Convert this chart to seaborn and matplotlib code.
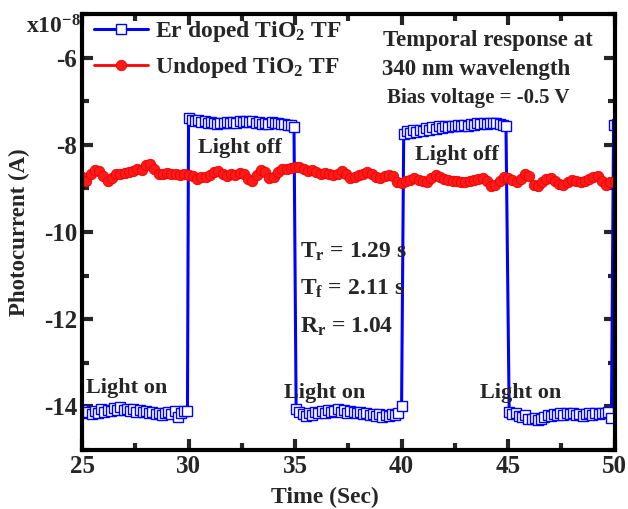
import numpy as np
import pandas as pd
import matplotlib
matplotlib.use("Agg")
import matplotlib.pyplot as plt
import seaborn as sns
from matplotlib.ticker import MultipleLocator

# photocurrent in units of 1e-8 A
# Er doped TiO2 TF: segments (start time, values), 0.15 s step
er_step = 0.15
er_starts = [25.0, 30.0, 35.05, 40.1, 45.05, 49.95]
er_seg_vals = [
    [-14.08, -14.15, -14.12, -14.18, -14.10, -14.14, -14.06, -14.12, -14.08, -14.10,
     -14.04, -14.09, -14.02, -14.08, -14.06, -14.10, -14.07, -14.12, -14.09, -14.13,
     -14.10, -14.15, -14.12, -14.18, -14.14, -14.20, -14.15, -14.12, -14.18, -14.10,
     -14.24, -14.15, -14.10, -14.10],
    [-7.38, -7.42, -7.45, -7.44, -7.47, -7.46, -7.50, -7.48, -7.50, -7.52,
     -7.49, -7.51, -7.48, -7.50, -7.47, -7.49, -7.46, -7.48, -7.45, -7.47,
     -7.46, -7.49, -7.47, -7.52, -7.50, -7.53, -7.48, -7.51, -7.50, -7.53,
     -7.52, -7.55, -7.54, -7.60],
    [-14.05, -14.12, -14.18, -14.22, -14.15, -14.20, -14.12, -14.16, -14.10, -14.14,
     -14.08, -14.12, -14.10, -14.06, -14.12, -14.09, -14.14, -14.10, -14.12, -14.15,
     -14.13, -14.18, -14.15, -14.20, -14.17, -14.22, -14.18, -14.24, -14.20, -14.22,
     -14.18, -14.20, -14.15, -13.98],
    [-7.75, -7.68, -7.72, -7.66, -7.70, -7.65, -7.68, -7.62, -7.66, -7.60,
     -7.64, -7.58, -7.62, -7.57, -7.60, -7.56, -7.58, -7.55, -7.57, -7.54,
     -7.56, -7.52, -7.55, -7.51, -7.53, -7.50, -7.52, -7.49, -7.50, -7.50,
     -7.52, -7.55, -7.56],
    [-14.12, -14.18, -14.15, -14.22, -14.25, -14.20, -14.28, -14.30, -14.26, -14.32,
     -14.28, -14.24, -14.20, -14.22, -14.17, -14.20, -14.16, -14.19, -14.15, -14.18,
     -14.16, -14.20, -14.17, -14.21, -14.18, -14.16, -14.19, -14.15, -14.17, -14.14,
     -14.16, -14.12, -14.27],
    [-7.55, -7.52],
]

# Undoped TiO2 TF, 0.2 s step from 25 s
un_start = 25.0
un_step = 0.2
un_vals = [
    -8.73, -8.82, -8.68, -8.57, -8.60, -8.72, -8.84, -8.76, -8.68, -8.66,
    -8.64, -8.63, -8.60, -8.56, -8.58, -8.47, -8.45, -8.55, -8.68, -8.67,
    -8.64, -8.68, -8.66, -8.70, -8.67, -8.69, -8.72, -8.78, -8.74, -8.73,
    -8.70, -8.62, -8.60, -8.68, -8.72, -8.66, -8.70, -8.64, -8.68, -8.78,
    -8.82, -8.70, -8.58, -8.62, -8.75, -8.74, -8.62, -8.56, -8.55, -8.53,
    -8.50, -8.52, -8.56, -8.60, -8.58, -8.62, -8.66, -8.64, -8.68, -8.70,
    -8.66, -8.60, -8.68, -8.76, -8.74, -8.70, -8.66, -8.62, -8.68, -8.74,
    -8.77, -8.72, -8.69, -8.72, -8.86, -8.88, -8.84, -8.80, -8.77, -8.80,
    -8.82, -8.85, -8.76, -8.70, -8.74, -8.78, -8.80, -8.82, -8.84, -8.86,
    -8.85, -8.82, -8.80, -8.78, -8.76, -8.84, -8.94, -8.92, -8.82, -8.74,
    -8.75, -8.80, -8.86, -8.78, -8.68, -8.72, -8.92, -8.95, -8.86, -8.78,
    -8.77, -8.82, -8.90, -8.92, -8.86, -8.80, -8.82, -8.86, -8.84, -8.78,
    -8.74, -8.72, -8.84, -8.92, -8.85, -8.82,
]

er_t, er_v = [], []
for t0, vals in zip(er_starts, er_seg_vals):
    er_t += list(t0 + er_step * np.arange(len(vals)))
    er_v += vals
er_df = pd.DataFrame({"t": er_t, "i": er_v})
un_df = pd.DataFrame({"t": un_start + un_step * np.arange(len(un_vals)), "i": un_vals})

sns.set_style("ticks")
plt.rcParams["font.family"] = ["Liberation Serif", "DejaVu Serif"]
plt.rcParams["font.weight"] = "bold"
plt.rcParams["axes.unicode_minus"] = False
plt.rcParams["mathtext.fontset"] = "custom"
plt.rcParams["mathtext.rm"] = "Liberation Serif:bold"
plt.rcParams["mathtext.it"] = "Liberation Serif:bold"
plt.rcParams["mathtext.bf"] = "Liberation Serif:bold"

fig = plt.figure(figsize=(6.28, 5.09), dpi=100)
ax = fig.add_axes([0.1306, 0.1159, 0.8481, 0.8566])

sns.lineplot(data=er_df, x="t", y="i", ax=ax, color="#0000ff", lw=2.2,
             marker="s", markersize=7, markerfacecolor="white",
             markeredgecolor="#0000ff", markeredgewidth=1.0,
             label="Er doped TiO$_2$ TF", sort=False)
sns.lineplot(data=un_df, x="t", y="i", ax=ax, color="#ff0000", lw=2.0,
             marker="o", markersize=7.5, markerfacecolor="#ff1a1a",
             markeredgecolor="#ee0000", markeredgewidth=0.6,
             label="Undoped TiO$_2$ TF", sort=False)

ax.set_xlim(25, 50)
ax.set_ylim(-15, -5)
ax.xaxis.set_major_locator(MultipleLocator(5))
ax.xaxis.set_minor_locator(MultipleLocator(2.5))
ax.set_yticks([-14, -12, -10, -8, -6])
ax.yaxis.set_minor_locator(MultipleLocator(1))
ax.tick_params(which="both", direction="in", top=True, right=True, width=3,
               labelsize=18)
ax.tick_params(which="major", length=8)
ax.tick_params(which="minor", length=5)
for s in ax.spines.values():
    s.set_linewidth(3)
    s.set_color("black")

ax.set_xlabel("Time (Sec)", fontsize=17, fontweight="bold")
ax.xaxis.set_label_coords(0.456, -0.085)
ax.set_ylabel("Photocurrent (A)", fontsize=16.5, fontweight="bold")
ax.yaxis.set_label_coords(-0.098, 0.5)

fig.text(0.128, 0.935, "x10$^{-8}$", ha="right", va="baseline", fontsize=17,
         fontweight="bold")

leg = ax.legend(loc="upper left", bbox_to_anchor=(-0.005, 1.02), frameon=False,
                fontsize=17, handlelength=2.3, handletextpad=0.3,
                labelspacing=0.45, borderaxespad=0.2)
for t in leg.get_texts():
    t.set_fontweight("bold")

kw = dict(fontsize=16, fontweight="bold", transform=ax.transAxes)
ax.text(0.565, 0.940, "Temporal response at", ha="left", va="center",
        fontsize=16.5, fontweight="bold", transform=ax.transAxes)
ax.text(0.563, 0.872, "340 nm wavelength", ha="left", va="center",
        fontsize=16.5, fontweight="bold", transform=ax.transAxes)
ax.text(0.572, 0.807, "Bias voltage = -0.5 V", ha="left", va="center",
        fontsize=15, fontweight="bold", transform=ax.transAxes)

for x, y, s in [(0.296, 0.693, "Light off"), (0.703, 0.677, "Light off"),
                (0.083, 0.142, "Light on"), (0.456, 0.131, "Light on"),
                (0.824, 0.131, "Light on")]:
    ax.text(x, y, s, ha="center", va="center", **kw)

kw2 = dict(fontsize=17, fontweight="bold", transform=ax.transAxes,
           ha="left", va="center")
ax.text(0.409, 0.455, "T$_r$ = 1.29 s", **kw2)
ax.text(0.409, 0.370, "T$_f$ = 2.11 s", **kw2)
ax.text(0.409, 0.283, "R$_r$ = 1.04", **kw2)

fig.savefig("out.png", dpi=100)
